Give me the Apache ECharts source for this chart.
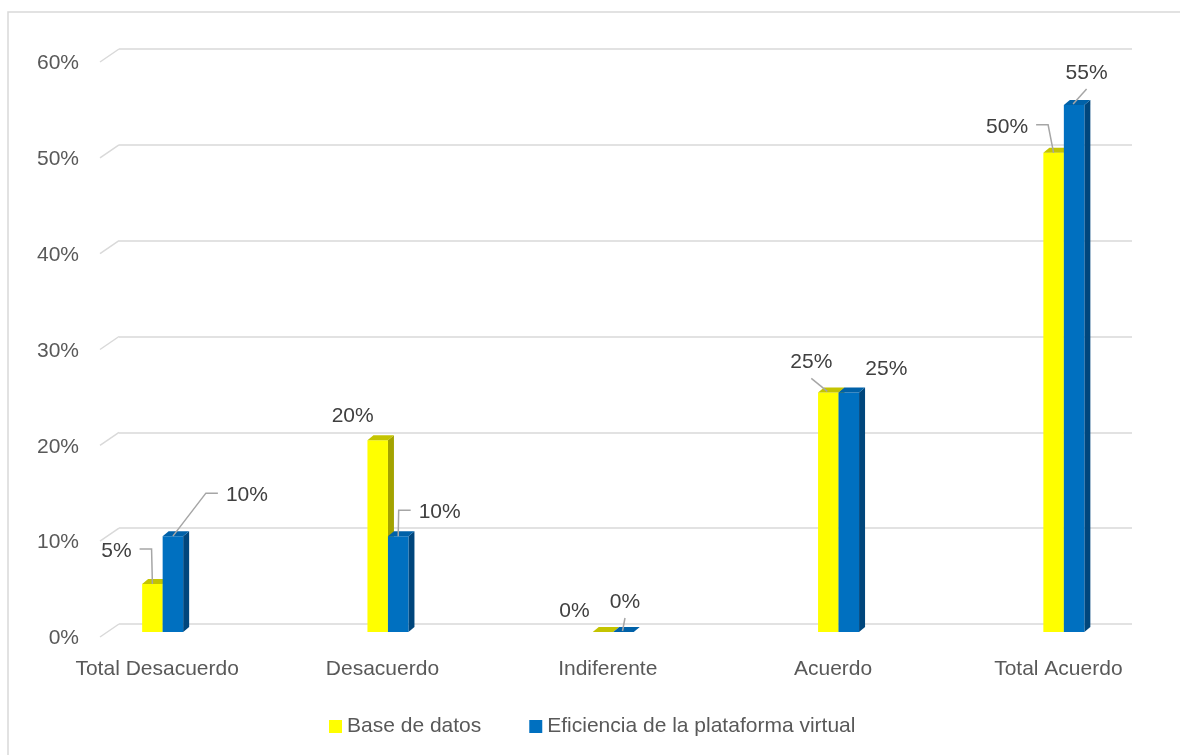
<!DOCTYPE html>
<html>
<head>
<meta charset="utf-8">
<title>Base de datos / Eficiencia de la plataforma virtual</title>
<script src="https://cdn.jsdelivr.net/npm/echarts@6/dist/echarts.min.js"></script>
<style>
  html, body { margin: 0; padding: 0; background: #ffffff; }
  #chart { width: 1180px; height: 755px; }
</style>
</head>
<body>
<div id="chart"></div>
<script>
// ---- data ----
const categories = ['Total Desacuerdo', 'Desacuerdo', 'Indiferente', 'Acuerdo', 'Total Acuerdo'];
const seriesNames = ['Base de datos', 'Eficiencia de la plataforma virtual'];
const baseDeDatos = [0.05, 0.20, 0.00, 0.25, 0.50];
const eficiencia = [0.10, 0.10, 0.00, 0.25, 0.55];
const yTicks = [0, 0.1, 0.2, 0.3, 0.4, 0.5, 0.6];

// ---- label placement: offset of the label centre from the bar top, and leader style ----
const yellowLabelPlacement = [[-36, -33, 'side'], [-25, -24, null], [-28.5, -21, null], [-17, -30, 'below'], [-46.5, -26, 'side']];
const blueLabelPlacement = [[74, -41, 'side'], [41.5, -24, 'side'], [1.5, -30, 'below'], [37.5, -23, null], [12.5, -32, 'below']];

const FONT_FAMILY = '"Liberation Sans", Arial, sans-serif';
const FONT_SIZE = 21;
const AXIS_TEXT = '#595959';
const LABEL_TEXT = '#404040';
const GRID_LINE = '#d9d9d9';
const LEADER = '#a6a6a6';
const DEPTH = [6, -5];

const yellowPalette = { front: '#FFFF00', top: '#C4C400', side: '#A3A300' };
const bluePalette = { front: '#0070C0', top: '#0061A8', side: '#00467C' };

const pct = v => Math.round(v * 100) + '%';

const measureCtx = document.createElement('canvas').getContext('2d');
measureCtx.font = FONT_SIZE + 'px ' + FONT_FAMILY;
const textWidth = s => measureCtx.measureText(s).width;

// 3D-looking column: front face, right side face and top face, plus its value label
function barRenderer(sideSign, palette, placement) {
  return function (params, api) {
    const ci = api.value(0);
    const v = api.value(1);
    const base = api.coord([ci, 0]);
    const top = api.coord([ci, v]);
    const band = api.size([1, 0])[0];
    const w = band * 0.091;
    const x0 = sideSign < 0 ? base[0] - w : base[0];
    const x1 = x0 + w;
    const yb = base[1];
    const yt = top[1];
    const dx = DEPTH[0], dy = DEPTH[1];
    const children = [];
    children.push({
      type: 'polygon',
      shape: { points: [[x1, yt], [x1 + dx, yt + dy], [x1 + dx, yb + dy], [x1, yb]] },
      style: { fill: palette.side }
    });
    if (yb - yt > 0.5) {
      children.push({
        type: 'rect',
        shape: { x: x0, y: yt, width: w, height: yb - yt },
        style: { fill: palette.front }
      });
    }
    children.push({
      type: 'polygon',
      shape: { points: [[x0, yt], [x0 + dx, yt + dy], [x1 + dx, yt + dy], [x1, yt]] },
      style: { fill: palette.top }
    });

    // value label
    const p = placement[params.dataIndex];
    const ax = (x0 + x1) / 2;
    const ay = yt;
    const lx = ax + p[0];
    const ly = ay + p[1];
    const txt = pct(v);
    const tw = textWidth(txt);
    if (p[2] === 'side') {
      let pts;
      if (lx < ax) {
        const sx = lx + tw / 2 + 8;
        pts = [[sx, ly - 2], [sx + 12, ly - 2], [ax, ay]];
      } else {
        const sx = lx - tw / 2 - 8;
        pts = [[sx, ly - 2], [sx - 12, ly - 2], [ax, ay]];
      }
      children.push({ type: 'polyline', shape: { points: pts }, style: { stroke: LEADER, lineWidth: 1.5, fill: null } });
    } else if (p[2] === 'below') {
      children.push({
        type: 'line',
        shape: { x1: lx, y1: ly + 16, x2: ax - 1, y2: ay - 1 },
        style: { stroke: LEADER, lineWidth: 1.5 }
      });
    }
    children.push({
      type: 'text',
      x: lx,
      y: ly,
      style: {
        text: txt,
        fill: LABEL_TEXT,
        font: FONT_SIZE + 'px ' + FONT_FAMILY,
        align: 'center',
        verticalAlign: 'middle'
      }
    });
    return { type: 'group', children: children };
  };
}

// short slanted segment joining each gridline on the back wall to the floor edge
function wallRenderer(params, api) {
  const p = api.coord([0, api.value(1)]);
  return {
    type: 'line',
    shape: { x1: p[0] - 19, y1: p[1] + 13, x2: p[0], y2: p[1] },
    style: { stroke: GRID_LINE, lineWidth: 1.5 }
  };
}

const chart = echarts.init(document.getElementById('chart'), null, { renderer: 'canvas' });

chart.setOption({
  animation: false,
  backgroundColor: '#ffffff',
  textStyle: { fontFamily: FONT_FAMILY },
  graphic: [{
    type: 'rect',
    shape: { x: 8, y: 12, width: 1300, height: 900 },
    style: { fill: null, stroke: GRID_LINE, lineWidth: 1.5 },
    silent: true,
    z: -10
  }],
  legend: {
    data: seriesNames,
    left: 324,
    top: 711,
    itemWidth: 13,
    itemHeight: 13,
    itemGap: 48,
    icon: 'rect',
    textStyle: { color: AXIS_TEXT, fontSize: FONT_SIZE, fontFamily: FONT_FAMILY }
  },
  grid: [
    { left: 119, right: 48, top: 49, bottom: 131 },
    { left: 50, right: 3.5, top: 57, bottom: 123 }
  ],
  xAxis: [
    { type: 'value', gridIndex: 0, min: 0, max: 1, show: false },
    {
      type: 'category',
      gridIndex: 1,
      data: categories,
      axisLine: { show: false },
      axisTick: { show: false },
      axisLabel: {
        interval: 0,
        color: AXIS_TEXT,
        fontSize: FONT_SIZE,
        fontFamily: FONT_FAMILY,
        margin: 27,
        padding: [0, 11, 0, 0]
      }
    }
  ],
  yAxis: [
    {
      type: 'value',
      gridIndex: 0,
      min: 0,
      max: 0.6,
      interval: 0.1,
      axisLine: { show: false },
      axisTick: { show: false },
      splitLine: { lineStyle: { color: GRID_LINE, width: 1.5 } },
      axisLabel: {
        formatter: pct,
        color: AXIS_TEXT,
        fontSize: FONT_SIZE,
        fontFamily: FONT_FAMILY,
        margin: 40,
        verticalAlign: 'top',
        lineHeight: 29
      }
    },
    { type: 'value', gridIndex: 1, min: 0, max: 0.6, interval: 0.1, show: false, splitLine: { show: false } }
  ],
  series: [
    {
      name: 'wall',
      type: 'custom',
      xAxisIndex: 0,
      yAxisIndex: 0,
      silent: true,
      renderItem: wallRenderer,
      data: yTicks.map(v => [0, v]),
      z: 1
    },
    {
      name: seriesNames[0],
      type: 'custom',
      xAxisIndex: 1,
      yAxisIndex: 1,
      itemStyle: { color: yellowPalette.front },
      renderItem: barRenderer(-1, yellowPalette, yellowLabelPlacement),
      data: baseDeDatos.map((v, i) => [i, v]),
      z: 2
    },
    {
      name: seriesNames[1],
      type: 'custom',
      xAxisIndex: 1,
      yAxisIndex: 1,
      itemStyle: { color: bluePalette.front },
      renderItem: barRenderer(1, bluePalette, blueLabelPlacement),
      data: eficiencia.map((v, i) => [i, v]),
      z: 3
    }
  ]
});
</script>
</body>
</html>
